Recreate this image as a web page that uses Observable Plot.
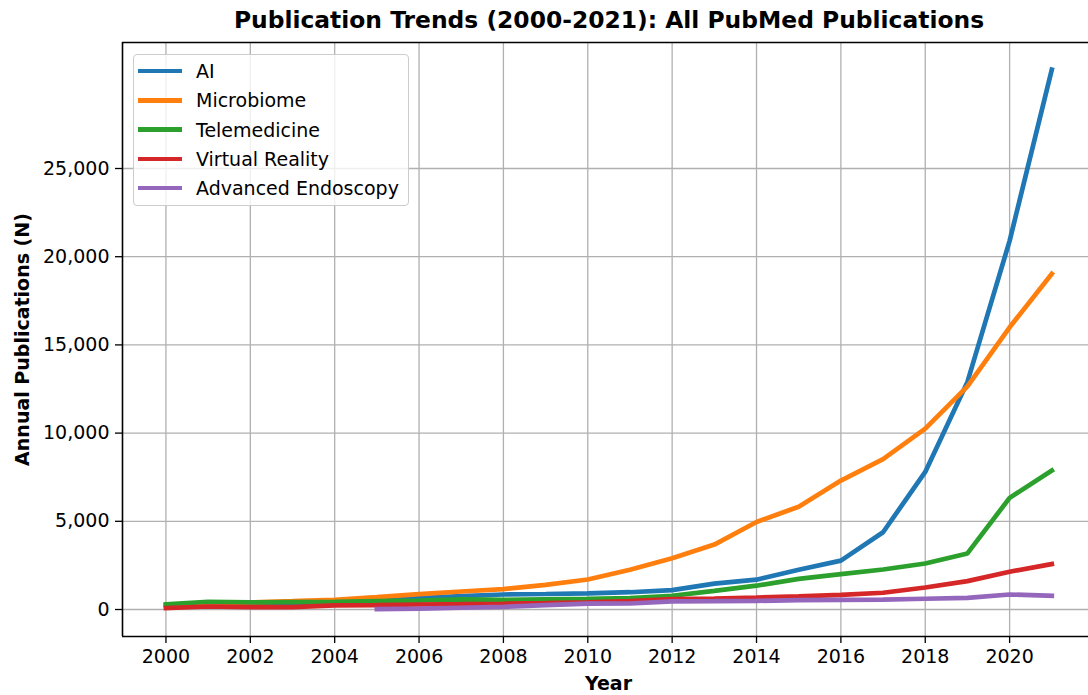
<!DOCTYPE html>
<html>
<head>
<meta charset="utf-8">
<script src="https://cdn.jsdelivr.net/npm/d3@7"></script>
<script src="https://cdn.jsdelivr.net/npm/@observablehq/plot@0.6"></script>
<style>
  body { margin: 0; background: #fff; font-family: "DejaVu Sans", sans-serif; }
  #wrap { position: relative; width: 1088px; height: 695px; overflow: hidden; }
  #title { position: absolute; left: 609px; top: 6px; transform: translateX(-50%); white-space: nowrap;
           font-weight: bold; font-size: 23.4px; color: #000; }
  #chart { position: absolute; left: 0; top: 40px; }
  #legend { position: absolute; left: 133px; top: 54px; width: 274px; height: 150px;
            border: 1px solid #cccccc; border-radius: 4px; background: rgba(255,255,255,0.8); }
  .item { position: absolute; left: 0; height: 22px; display: flex; align-items: center; font-size: 19px; color: #000; white-space: nowrap; }
  .sw { width: 44px; height: 4.5px; margin-left: 4px; margin-right: 14px; }
</style>
</head>
<body>
<div id="wrap">
  <div id="title">Publication Trends (2000-2021): All PubMed Publications</div>
  <div id="chart"></div>
  <div id="legend"></div>
</div>
<script>
const years = [2000,2001,2002,2003,2004,2005,2006,2007,2008,2009,2010,2011,2012,2013,2014,2015,2016,2017,2018,2019,2020,2021];
const seriesNames = ["AI", "Microbiome", "Telemedicine", "Virtual Reality", "Advanced Endoscopy"];
const seriesColors = ["#1f77b4", "#ff7f0e", "#2ca02c", "#d62728", "#9467bd"];
const ai           = [250, 300, 320, 350, 400, 500, 650, 760, 850, 880, 920, 980, 1100, 1470, 1690, 2250, 2770, 4380, 7800, 12900, 20900, 30600];
const microbiome   = [250, 300, 400, 470, 550, 700, 875, 1020, 1160, 1400, 1700, 2250, 2900, 3680, 4960, 5830, 7310, 8520, 10250, 12650, 16000, 19030];
const telemedicine = [290, 440, 400, 420, 440, 470, 500, 580, 550, 580, 610, 650, 780, 1060, 1350, 1740, 2010, 2270, 2610, 3180, 6330, 7880];
const virtualReality = [80, 170, 135, 140, 230, 250, 285, 300, 325, 360, 400, 480, 590, 620, 680, 750, 830, 950, 1250, 1610, 2140, 2580];
const endoscopy    = [null, null, null, null, null, 20, 50, 100, 150, 250, 330, 340, 460, 470, 490, 530, 550, 560, 610, 660, 850, 780];
const yTicks = [0, 5000, 10000, 15000, 20000, 25000];
const xTicks = [2000, 2002, 2004, 2006, 2008, 2010, 2012, 2014, 2016, 2018, 2020];

const allSeries = [ai, microbiome, telemedicine, virtualReality, endoscopy];
const rows = [];
allSeries.forEach((vals, si) => {
  years.forEach((yr, i) => {
    if (vals[i] != null) rows.push({series: seriesNames[si], year: yr, value: vals[i]});
  });
});

const xDomain = [1998.97, 2021.87];
const yDomain = [-1530, 32143];

const chart = Plot.plot({
  width: 1088,
  height: 655,
  marginTop: 2,
  marginBottom: 59,
  marginLeft: 122,
  marginRight: 0,
  style: { fontFamily: "DejaVu Sans, sans-serif", fontSize: "19px", color: "#000", background: "#fff" },
  x: { domain: xDomain, ticks: xTicks, tickFormat: d3.format("d"), label: null },
  y: { domain: yDomain, ticks: yTicks, tickFormat: d3.format(","), label: null },
  color: { domain: seriesNames, range: seriesColors },
  marks: [
    Plot.gridX(xTicks, { stroke: "#b0b0b0", strokeOpacity: 1, strokeWidth: 1.3 }),
    Plot.gridY(yTicks, { stroke: "#b0b0b0", strokeOpacity: 1, strokeWidth: 1.3 }),
    Plot.axisX(xTicks, { tickSize: 7, tickPadding: 6, stroke: "#000", strokeWidth: 1.3, fontSize: 19, tickFormat: d3.format("d"), label: null }),
    Plot.axisY(yTicks, { tickSize: 7, tickPadding: 6, stroke: "#000", strokeWidth: 1.3, fontSize: 19, tickFormat: d3.format(","), label: null }),
    Plot.ruleX([xDomain[0]], { stroke: "#000", strokeWidth: 1.6 }),
    Plot.ruleY([yDomain[0], yDomain[1]], { stroke: "#000", strokeWidth: 1.6 }),
    Plot.line(rows, { x: "year", y: "value", z: "series", stroke: "series", strokeWidth: 4.7, strokeLinejoin: "miter", strokeLinecap: "square" }),
    Plot.text(["Annual Publications (N)"], { frameAnchor: "left", textAnchor: "middle", dx: -100, rotate: -90, fontWeight: "bold", fontSize: 19, fill: "#000" }),
    Plot.text(["Year"], { frameAnchor: "bottom", dy: 53, dx: 3, fontWeight: "bold", fontSize: 19, fill: "#000" })
  ]
});
document.getElementById("chart").appendChild(chart);

const legend = document.getElementById("legend");
seriesNames.forEach((name, i) => {
  const item = document.createElement("div");
  item.className = "item";
  item.style.top = (5 + i * 29.3) + "px";
  const sw = document.createElement("span");
  sw.className = "sw";
  sw.style.background = seriesColors[i];
  const label = document.createElement("span");
  label.textContent = name;
  item.appendChild(sw);
  item.appendChild(label);
  legend.appendChild(item);
});
</script>
</body>
</html>
